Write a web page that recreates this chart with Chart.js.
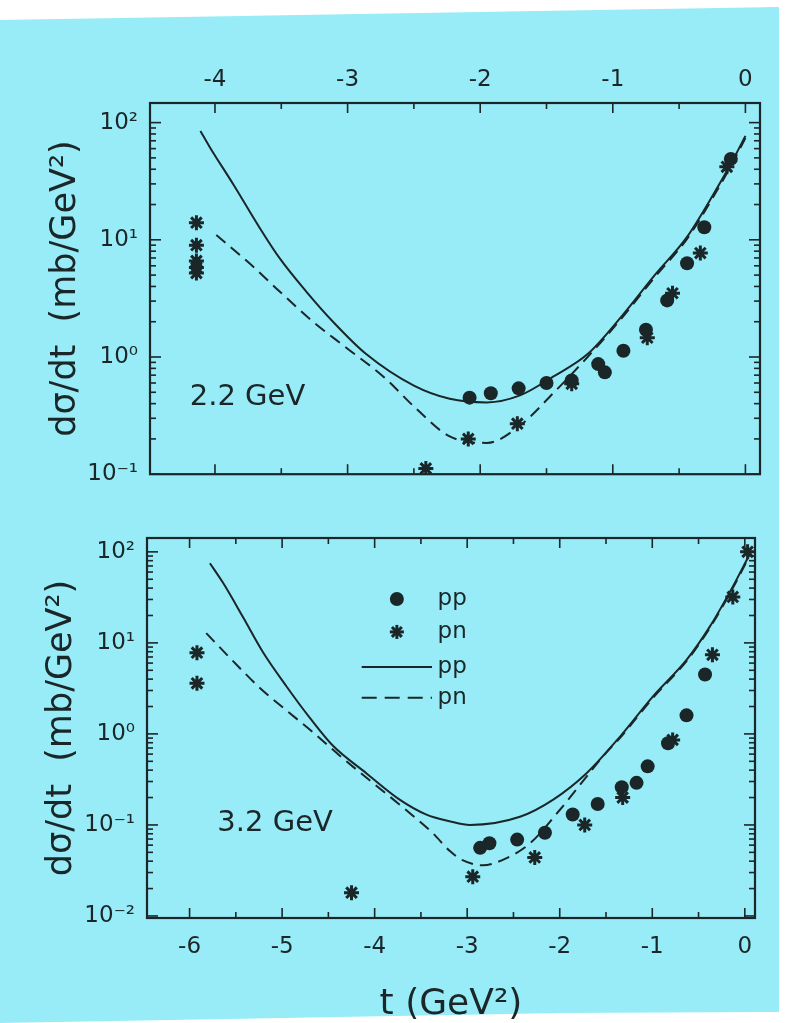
<!DOCTYPE html>
<html lang="en">
<head>
<meta charset="UTF-8">
<title>dσ/dt for pp and pn at 2.2 and 3.2 GeV</title>
<script src="https://cdn.jsdelivr.net/npm/chart.js"></script>
<style>
  html, body { margin: 0; padding: 0; }
  body { width: 787px; height: 1023px; background: #fff; position: relative; overflow: hidden; }
  .paper {
    position: absolute; left: 0; top: 0; width: 787px; height: 1023px;
    background: #97ecf8;
    clip-path: polygon(0 20px, 779px 7px, 779px 1012px, 560px 1013px, 0 1023px);
  }
  canvas { position: absolute; left: 0; }
  #topChart { top: 0; }
  #bottomChart { top: 500px; }
</style>
</head>
<body>
<div class="paper"></div>
<canvas id="topChart" width="787" height="500"></canvas>
<canvas id="bottomChart" width="787" height="523"></canvas>

<script>
// ---- axes ----
const topTicksX = [-4, -3, -2, -1, 0];
const topLabelsX = ['-4', '-3', '-2', '-1', '0'];
const topMinorX = [-3.5, -2.5, -1.5, -0.5];
const topTicksY = [0.1, 1, 10, 100];
const topLabelsY = ['10⁻¹', '10⁰', '10¹', '10²'];

const botTicksX = [-6, -5, -4, -3, -2, -1, 0];
const botLabelsX = ['-6', '-5', '-4', '-3', '-2', '-1', '0'];
const botMinorX = [-5.5, -4.5, -3.5, -2.5, -1.5, -0.5];
const botTicksY = [0.01, 0.1, 1, 10, 100];
const botLabelsY = ['10⁻²', '10⁻¹', '10⁰', '10¹', '10²'];

const logMinor = [2, 3, 4, 5, 6, 7, 8, 9];

// ---- 2.2 GeV ----
const top_ppCurveT = [-4.11, -4.04, -3.86, -3.66, -3.51, -3.31, -3.11, -2.86, -2.50, -2.23, -1.95, -1.70, -1.45, -1.19, -0.94, -0.69, -0.44, -0.24, -0.09, 0.0];
const top_ppCurveV = [85, 62, 29.5, 12.5, 6.9, 3.6, 2.0, 1.06, 0.57, 0.44, 0.41, 0.47, 0.68, 1.06, 2.18, 4.9, 10.6, 24.6, 49, 77];
const top_pnCurveT = [-3.99, -3.74, -3.51, -3.26, -3.01, -2.73, -2.48, -2.23, -1.95, -1.70, -1.45, -1.19, -0.94, -0.69, -0.44, -0.24, -0.09, 0.0];
const top_pnCurveV = [11, 6.3, 3.6, 2.0, 1.2, 0.68, 0.36, 0.21, 0.185, 0.26, 0.49, 1.0, 2.1, 4.7, 10.2, 23.5, 47, 74];
const top_ppDataT = [-2.08, -1.92, -1.71, -1.50, -1.31, -1.11, -1.06, -0.92, -0.75, -0.59, -0.44, -0.31, -0.11];
const top_ppDataV = [0.45, 0.49, 0.54, 0.60, 0.63, 0.87, 0.74, 1.13, 1.71, 3.04, 6.3, 12.8, 49];
const top_pnDataT = [-4.14, -4.14, -4.14, -4.14, -4.14, -2.41, -2.09, -1.72, -1.31, -0.74, -0.55, -0.34, -0.14];
const top_pnDataV = [14, 9, 6.6, 5.8, 5.2, 0.112, 0.20, 0.27, 0.59, 1.46, 3.5, 7.7, 42];

// ---- 3.2 GeV ----
const bot_ppCurveT = [-5.78, -5.64, -5.42, -5.21, -4.95, -4.70, -4.45, -4.09, -3.73, -3.44, -3.19, -2.97, -2.43, -2.07, -1.71, -1.35, -0.99, -0.63, -0.38, -0.13, 0.04];
const bot_ppCurveV = [75, 46, 19, 8.0, 3.3, 1.5, 0.74, 0.37, 0.19, 0.13, 0.11, 0.10, 0.123, 0.19, 0.37, 0.93, 2.6, 6.5, 15, 41.5, 89];
const bot_pnCurveT = [-5.82, -5.53, -5.24, -4.95, -4.67, -4.38, -4.02, -3.66, -3.37, -3.19, -3.05, -2.83, -2.58, -2.32, -2.00, -1.71, -1.50, -1.35, -0.99, -0.63, -0.38, -0.13, 0.04];
const bot_pnCurveV = [12.8, 6.3, 3.2, 1.8, 1.05, 0.58, 0.29, 0.146, 0.081, 0.052, 0.041, 0.036, 0.043, 0.063, 0.146, 0.34, 0.62, 0.9, 2.5, 6.3, 14.5, 40, 86];
const bot_ppDataT = [-2.86, -2.76, -2.46, -2.16, -1.86, -1.59, -1.33, -1.17, -1.05, -0.83, -0.63, -0.43];
const bot_ppDataV = [0.056, 0.063, 0.069, 0.082, 0.13, 0.17, 0.26, 0.29, 0.44, 0.79, 1.6, 4.5];
const bot_pnDataT = [-5.92, -5.92, -4.25, -2.94, -2.27, -1.73, -1.32, -0.78, -0.35, -0.13, 0.03];
const bot_pnDataV = [7.8, 3.6, 0.018, 0.027, 0.044, 0.10, 0.20, 0.86, 7.4, 32, 100];

const INK = '#1b2628';
const FONT = "'DejaVu Sans', sans-serif";
Chart.defaults.font.family = FONT;
Chart.defaults.color = INK;

const pts = (t, v) => t.map((x, i) => ({ x: x, y: v[i] }));

// inward tick marks, frame box, energy label and the in-plot legend
const framePlugin = {
  id: 'frame',
  afterDatasetsDraw(chart, args, o) {
    const { ctx, chartArea: a, scales: { x, y } } = chart;
    const seg = (x1, y1, x2, y2) => { ctx.beginPath(); ctx.moveTo(x1, y1); ctx.lineTo(x2, y2); ctx.stroke(); };
    ctx.save();
    ctx.strokeStyle = INK;
    ctx.fillStyle = INK;
    ctx.lineWidth = 1.6;

    o.majorX.forEach(v => {
      const p = x.getPixelForValue(v);
      seg(p, a.top, p, a.top + 10);
      seg(p, a.bottom, p, a.bottom - 10);
    });
    o.minorX.forEach(v => {
      const p = x.getPixelForValue(v);
      seg(p, a.top, p, a.top + 6);
      seg(p, a.bottom, p, a.bottom - 6);
    });
    o.majorY.forEach(d => {
      const p = y.getPixelForValue(d);
      seg(a.left, p, a.left + 11, p);
      seg(a.right, p, a.right - 11, p);
      logMinor.forEach(m => {
        const v = d * m;
        if (v > y.max) return;
        const q = y.getPixelForValue(v);
        seg(a.left, q, a.left + 6, q);
        seg(a.right, q, a.right - 6, q);
      });
    });

    ctx.lineWidth = 2.2;
    ctx.strokeRect(a.left, a.top, a.right - a.left, a.bottom - a.top);

    ctx.font = '29px ' + FONT;
    ctx.textAlign = 'left';
    ctx.textBaseline = 'middle';
    ctx.fillText(o.energy, x.getPixelForValue(o.energyAt[0]), y.getPixelForValue(o.energyAt[1]));

    if (o.legend) {
      const L = o.legend;
      const ds = chart.data.datasets;
      const sx = x.getPixelForValue(L.symbolT);
      const lx1 = x.getPixelForValue(L.lineT[0]);
      const lx2 = x.getPixelForValue(L.lineT[1]);
      const tx = x.getPixelForValue(L.textT);
      const rows = L.rows.map(v => y.getPixelForValue(v));
      ctx.font = '23px ' + FONT;

      // pp data: filled circle
      ctx.beginPath(); ctx.arc(sx, rows[0], 7, 0, Math.PI * 2); ctx.fill();
      ctx.fillText(ds[2].label, tx, rows[0]);
      // pn data: star
      ctx.lineWidth = 3;
      for (let k = 0; k < 4; k++) {
        const ang = k * Math.PI / 4;
        seg(sx - 7 * Math.cos(ang), rows[1] - 7 * Math.sin(ang), sx + 7 * Math.cos(ang), rows[1] + 7 * Math.sin(ang));
      }
      ctx.fillText(ds[3].label, tx, rows[1]);
      // pp theory: solid
      ctx.lineWidth = 2;
      seg(lx1, rows[2], lx2, rows[2]);
      ctx.fillText(ds[0].label, tx, rows[2]);
      // pn theory: dashed
      ctx.setLineDash([15, 8]);
      seg(lx1, rows[3], lx2, rows[3]);
      ctx.setLineDash([]);
      ctx.fillText(ds[1].label, tx, rows[3]);
    }
    ctx.restore();
  }
};

function panel(id, c) {
  return new Chart(document.getElementById(id), {
    type: 'scatter',
    data: {
      datasets: [
        { label: 'pp', data: c.ppCurve, showLine: true, pointRadius: 0, borderColor: INK, borderWidth: 2, cubicInterpolationMode: 'monotone' },
        { label: 'pn', data: c.pnCurve, showLine: true, pointRadius: 0, borderColor: INK, borderWidth: 2, borderDash: [12, 7], cubicInterpolationMode: 'monotone' },
        { label: 'pp', data: c.ppData, showLine: false, pointStyle: 'circle', pointRadius: 7, pointBackgroundColor: INK, pointBorderWidth: 0 },
        { label: 'pn', data: c.pnData, showLine: false, pointStyle: 'star', pointRadius: 7.5, pointBorderColor: INK, pointBorderWidth: 3 }
      ]
    },
    options: {
      responsive: false,
      animation: false,
      devicePixelRatio: 1,
      layout: { padding: c.padding },
      plugins: { legend: { display: false }, tooltip: { enabled: false }, frame: c.frame },
      scales: {
        x: {
          type: 'linear',
          position: c.xPosition,
          min: c.xMin, max: c.xMax,
          grid: { display: false, drawTicks: false },
          border: { display: false },
          ticks: { padding: c.xPad, font: { size: 23 }, color: INK, callback: (v, i) => c.xLabels[i] },
          afterBuildTicks: s => { s.ticks = c.xTicks.map(v => ({ value: v })); },
          afterFit: s => { s.height = c.xHeight; },
          title: c.xTitle
        },
        y: {
          type: 'logarithmic',
          min: c.yMin, max: c.yMax,
          grid: { display: false, drawTicks: false },
          border: { display: false },
          ticks: { padding: 12, font: { size: 23 }, color: INK, callback: (v, i) => c.yLabels[i] },
          afterBuildTicks: s => { s.ticks = c.yTicks.map(v => ({ value: v })); },
          afterFit: s => { s.width = c.yWidth; },
          title: { display: true, text: 'dσ/dt  (mb/GeV²)', color: INK, font: { size: 35, lineHeight: 1 }, padding: { top: c.yTitlePad, bottom: 0 } }
        }
      }
    },
    plugins: [framePlugin]
  });
}

panel('topChart', {
  ppCurve: pts(top_ppCurveT, top_ppCurveV),
  pnCurve: pts(top_pnCurveT, top_pnCurveV),
  ppData: pts(top_ppDataT, top_ppDataV),
  pnData: pts(top_pnDataT, top_pnDataV),
  padding: { left: 0, top: 0, right: 27, bottom: 17 },
  xPosition: 'top', xMin: -4.49, xMax: 0.11, xPad: 9, xHeight: 103,
  xTicks: topTicksX, xLabels: topLabelsX,
  xTitle: { display: false },
  yMin: 0.1, yMax: 147, yTicks: topTicksY, yLabels: topLabelsY, yWidth: 150, yTitlePad: 48,
  frame: { majorX: topTicksX, minorX: topMinorX, majorY: topTicksY, energy: '2.2 GeV', energyAt: [-4.19, 0.45] }
});

panel('bottomChart', {
  ppCurve: pts(bot_ppCurveT, bot_ppCurveV),
  pnCurve: pts(bot_pnCurveT, bot_pnCurveV),
  ppData: pts(bot_ppDataT, bot_ppDataV),
  pnData: pts(bot_pnDataT, bot_pnDataV),
  padding: { left: 0, top: 38, right: 32, bottom: 0 },
  xPosition: 'bottom', xMin: -6.46, xMax: 0.11, xPad: 15, xHeight: 105,
  xTicks: botTicksX, xLabels: botLabelsX,
  xTitle: { display: true, text: 't (GeV²)', color: INK, font: { size: 36, lineHeight: 1 }, padding: { top: 0, bottom: 0 } },
  yMin: 0.0095, yMax: 142, yTicks: botTicksY, yLabels: botLabelsY, yWidth: 147, yTitlePad: 44,
  frame: {
    majorX: botTicksX, minorX: botMinorX, majorY: botTicksY, energy: '3.2 GeV', energyAt: [-5.70, 0.105],
    legend: { symbolT: -3.76, lineT: [-4.14, -3.38], textT: -3.32, rows: [30.4, 13.2, 5.45, 2.49] }
  }
});
</script>
</body>
</html>
